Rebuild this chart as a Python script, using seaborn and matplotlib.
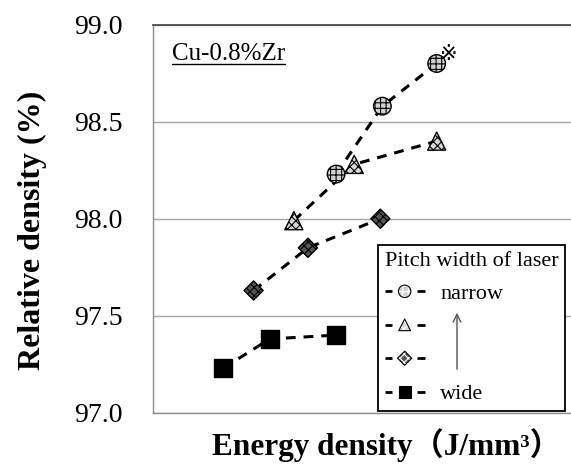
import matplotlib
matplotlib.use("Agg")
import matplotlib.pyplot as plt
import seaborn as sns
import pandas as pd
from matplotlib.lines import Line2D
from matplotlib.legend_handler import HandlerPathCollection
from matplotlib.collections import PathCollection

# ---- data (energy density in arbitrary read-off units, relative density %) ----
x_wide = [85, 108, 141]
y_wide = [97.23, 97.38, 97.40]
x_mid2 = [100, 127, 163]
y_mid2 = [97.63, 97.85, 98.00]
x_mid1 = [120, 150, 191]
y_mid1 = [97.99, 98.28, 98.40]
x_narrow = [141, 164, 191]
y_narrow = [98.23, 98.58, 98.80]
legend_labels = ["narrow", "", "", "wide"]
yticks = [97.0, 97.5, 98.0, 98.5, 99.0]

sns.set_theme(style="white")
serif = ["Liberation Serif", "DejaVu Sans"]
plt.rcParams["font.family"] = serif
plt.rcParams["hatch.linewidth"] = 0.8
plt.rcParams["text.color"] = "black"
plt.rcParams["axes.labelcolor"] = "black"
plt.rcParams["ytick.color"] = "black"


class DashedMarkerHandler(HandlerPathCollection):
    """Legend handle: short dash, marker, short dash."""
    def create_artists(self, legend, orig_handle, xdescent, ydescent,
                       width, height, fontsize, trans):
        arts = super().create_artists(legend, orig_handle, xdescent, ydescent,
                                      width, height, fontsize, trans)
        y = height / 2 - ydescent
        x0 = -xdescent
        d = 0.19 * width
        lines = []
        for a, b in [(x0, x0 + d), (x0 + width - d, x0 + width)]:
            ln = Line2D([a, b], [y, y], color="black", linewidth=2.0,
                        solid_capstyle="butt")
            ln.set_transform(trans)
            lines.append(ln)
        return lines + arts


fig = plt.figure(figsize=(5.71, 4.73), dpi=100)
ax = fig.add_axes([153 / 571, 1 - 412.7 / 473, 0.74, (412.7 - 24.7) / 473])

series = [
    dict(x=x_narrow, y=y_narrow, marker="o", s=160, fc="#d0d0d0", hatch="+++", ls=0.5),
    dict(x=x_mid1, y=y_mid1, marker="^", s=170, fc="#d8d8d8", hatch="xxxx", ls=0.42),
    dict(x=x_mid2, y=y_mid2, marker="D", s=95, fc="#555555", hatch="xxxx", ls=0.55),
    dict(x=x_wide, y=y_wide, marker="s", s=165, fc="black", hatch=None, ls=0.45),
]

for sd in reversed(series):
    df = pd.DataFrame({"x": sd["x"], "y": sd["y"]})
    sns.lineplot(data=df, x="x", y="y", ax=ax, color="black", linewidth=2.2,
                 dashes=False, linestyle=(0, (3.2, 2.6)), zorder=2)

handles = []
for sd in series:
    df = pd.DataFrame({"x": sd["x"], "y": sd["y"]})
    ax.scatter(df["x"], df["y"], marker=sd["marker"], s=sd["s"],
               facecolor=sd["fc"], edgecolor="black", hatch=sd["hatch"],
               linewidth=1.0, zorder=3)
    sm = ax.scatter([], [], marker=sd["marker"], s=sd["s"] * sd["ls"],
                    facecolor=sd["fc"], edgecolor="black", hatch=sd["hatch"],
                    linewidth=0.8)
    handles.append(sm)

ax.set_xlim(50, 260)
ax.set_ylim(97.0, 99.0)
ax.set_yticks(yticks)
ax.set_yticklabels([f"{v:.1f}" for v in yticks])
ax.set_xticks([])
ax.tick_params(axis="y", labelsize=20, pad=22, length=0, colors="black")
ax.grid(axis="y", color="#a6a6a6", linewidth=1.0)
ax.grid(axis="x", visible=False)
for side in ["left", "bottom"]:
    ax.spines[side].set_color("#8c8c8c")
    ax.spines[side].set_linewidth(1.0)
ax.spines["top"].set_color("#404040")
ax.spines["top"].set_linewidth(1.2)
ax.spines["right"].set_visible(False)

ax.set_xlabel("")
ax.set_ylabel("")
fig.text(386 / 571, 1 - 445 / 473, "Energy density（J/mm³）", ha="center", va="center",
         fontsize=22.5, fontweight="bold", family=["Liberation Serif", "Noto Sans CJK JP"])
fig.text(32 / 571, 1 - 230 / 473, "Relative density (%)", ha="center", va="center",
         rotation=90, fontsize=23, fontweight="bold", family=serif)

# sample label with underline
t = fig.text(172 / 571, 1 - 60 / 473, "Cu-0.8%Zr", ha="left", va="baseline",
             fontsize=18, family=serif)
fig.canvas.draw()
bb = t.get_window_extent(renderer=fig.canvas.get_renderer())
fig.add_artist(Line2D([bb.x0 / fig.bbox.width, bb.x1 / fig.bbox.width],
                      [(bb.y0 + 0.5) / fig.bbox.height] * 2,
                      transform=fig.transFigure, color="black", linewidth=1.0))

# reference mark near the highest point
ax.annotate("※", xy=(x_narrow[-1], y_narrow[-1]), xytext=(9, 7),
            textcoords="offset points", fontsize=15, ha="center", va="center",
            family=["DejaVu Sans", "Noto Sans CJK JP"])

leg = ax.legend(handles=handles, labels=legend_labels, title="Pitch width of laser",
                handler_map={PathCollection: DashedMarkerHandler()},
                scatterpoints=1, scatteryoffsets=[0.5],
                loc="upper left", bbox_to_anchor=(378 / 571, 1 - 245 / 473),
                bbox_transform=fig.transFigure, borderaxespad=0, frameon=True,
                fancybox=False, edgecolor="black", framealpha=1, fontsize=16,
                title_fontsize=16, handlelength=1.8, handletextpad=0.7,
                labelspacing=0.58, borderpad=0.3, alignment="left")
leg.get_frame().set_linewidth(1.3)
leg.set_zorder(5)

ax.annotate("", xy=(457 / 571, 1 - 310 / 473), xytext=(457 / 571, 1 - 372 / 473),
            xycoords="figure fraction", textcoords="figure fraction",
            arrowprops=dict(arrowstyle="->", color="#555555", lw=1.0,
                            mutation_scale=14),
            zorder=10, annotation_clip=False)

fig.savefig("out.png", dpi=100)
